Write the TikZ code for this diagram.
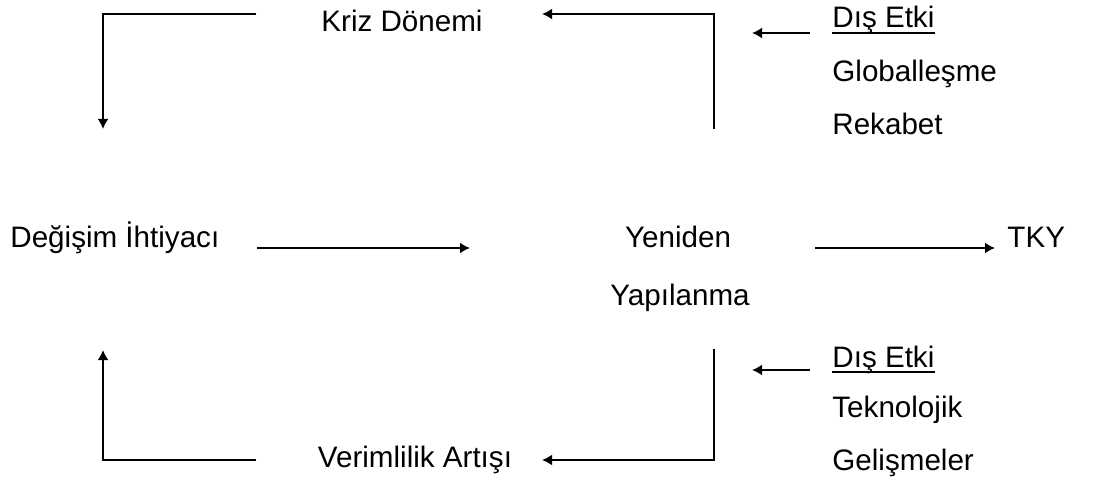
\documentclass[tikz,border=0pt]{standalone}
\usepackage{fontspec}
\setmainfont{Liberation Sans}
\usetikzlibrary{arrows.meta}
\tikzset{
  lbl/.style={inner sep=0pt, font=\fontsize{14.8}{17}\selectfont},
  wire/.style={line width=1.1pt},
  flow/.style={line width=1.1pt, -{Latex[length=5pt,width=5.5pt]}},
  uline/.style={line width=0.8pt}
}
\begin{document}
\begin{tikzpicture}[x=0.5pt,y=-0.5pt]
\path[use as bounding box] (0,0) rectangle (1111,486);

% labels of the cycle
\node[lbl, anchor=base] (kriz) at (402,32) {Kriz Dönemi};
\node[lbl, anchor=base west] (degisim) at (10,247) {Değişim İhtiyacı};
\node[lbl, anchor=base] (yeniden) at (678,247) {Yeniden};
\node[lbl, anchor=base] (yapilanma) at (680,305) {Yapılanma};
\node[lbl, anchor=base west] (tky) at (1007,247) {TKY};
\node[lbl, anchor=base] (verim) at (415,467) {Verimlilik Artışı};

% external influences, upper block
\node[lbl, anchor=base west] (dis1) at (832,28) {Dış Etki};
\node[lbl, anchor=base west] (glob) at (832,82) {Globalleşme};
\node[lbl, anchor=base west] (rek) at (832,135) {Rekabet};
% external influences, lower block
\node[lbl, anchor=base west] (dis2) at (832,367) {Dış Etki};
\node[lbl, anchor=base west] (tek) at (832,417) {Teknolojik};
\node[lbl, anchor=base west] (gel) at (832,470) {Gelişmeler};

% underlines of the headings
\draw[uline] ([yshift=-2.6pt]dis1.base west) -- ([yshift=-2.6pt]dis1.base east);
\draw[uline] ([yshift=-2.6pt]dis2.base west) -- ([yshift=-2.6pt]dis2.base east);

% free ends of the bracket connectors
\coordinate (tlA) at (256,14);
\coordinate (tlB) at (103,14);
\coordinate (tlC) at (103,129);
\coordinate (trA) at (714,129);
\coordinate (trB) at (714,14);
\coordinate (trC) at (542,14);
\coordinate (brA) at (714,349);
\coordinate (brB) at (714,460);
\coordinate (brC) at (542,460);
\coordinate (blA) at (256,460);
\coordinate (blB) at (103,460);
\coordinate (blC) at (103,350);
\coordinate (e1a) at (810,33);
\coordinate (e1b) at (752,33);
\coordinate (e2a) at (810,370);
\coordinate (e2b) at (752,370);
\coordinate (m1a) at (257,248);
\coordinate (m1b) at (470,248);
\coordinate (m2a) at (815,248);
\coordinate (m2b) at (995,248);

% brackets
\draw[flow] (tlA) -- (tlB) -- (tlC);
\draw[flow] (trA) -- (trB) -- (trC);
\draw[flow] (brA) -- (brB) -- (brC);
\draw[flow] (blA) -- (blB) -- (blC);

% horizontal arrows
\draw[flow] (m1a) -- (m1b);
\draw[flow] (m2a) -- (m2b);
\draw[flow] (e1a) -- (e1b);
\draw[flow] (e2a) -- (e2b);
\end{tikzpicture}
\end{document}
